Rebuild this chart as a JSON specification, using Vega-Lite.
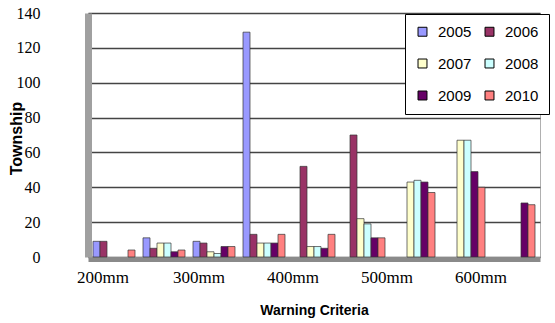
{
  "$schema": "https://vega.github.io/schema/vega-lite/v6.json",
  "width": 452,
  "height": 244,
  "autosize": {"type": "none"},
  "padding": {"left": 88, "top": 13, "right": 15, "bottom": 66},
  "background": "white",
  "config": {
    "view": {"stroke": "#b0b0b0", "strokeWidth": 1}
  },
  "data": {
    "values": [
      {"criteria": "200mm", "year": "2005", "count": 9},
      {"criteria": "200mm", "year": "2006", "count": 9},
      {"criteria": "200mm", "year": "2007", "count": 0},
      {"criteria": "200mm", "year": "2008", "count": 0},
      {"criteria": "200mm", "year": "2009", "count": 0},
      {"criteria": "200mm", "year": "2010", "count": 4},
      {"criteria": "250mm", "year": "2005", "count": 11},
      {"criteria": "250mm", "year": "2006", "count": 5},
      {"criteria": "250mm", "year": "2007", "count": 8},
      {"criteria": "250mm", "year": "2008", "count": 8},
      {"criteria": "250mm", "year": "2009", "count": 3},
      {"criteria": "250mm", "year": "2010", "count": 4},
      {"criteria": "300mm", "year": "2005", "count": 9},
      {"criteria": "300mm", "year": "2006", "count": 8},
      {"criteria": "300mm", "year": "2007", "count": 3},
      {"criteria": "300mm", "year": "2008", "count": 2},
      {"criteria": "300mm", "year": "2009", "count": 6},
      {"criteria": "300mm", "year": "2010", "count": 6},
      {"criteria": "350mm", "year": "2005", "count": 129},
      {"criteria": "350mm", "year": "2006", "count": 13},
      {"criteria": "350mm", "year": "2007", "count": 8},
      {"criteria": "350mm", "year": "2008", "count": 8},
      {"criteria": "350mm", "year": "2009", "count": 8},
      {"criteria": "350mm", "year": "2010", "count": 13},
      {"criteria": "400mm", "year": "2005", "count": 0},
      {"criteria": "400mm", "year": "2006", "count": 52},
      {"criteria": "400mm", "year": "2007", "count": 6},
      {"criteria": "400mm", "year": "2008", "count": 6},
      {"criteria": "400mm", "year": "2009", "count": 5},
      {"criteria": "400mm", "year": "2010", "count": 13},
      {"criteria": "450mm", "year": "2005", "count": 0},
      {"criteria": "450mm", "year": "2006", "count": 70},
      {"criteria": "450mm", "year": "2007", "count": 22},
      {"criteria": "450mm", "year": "2008", "count": 19},
      {"criteria": "450mm", "year": "2009", "count": 11},
      {"criteria": "450mm", "year": "2010", "count": 11},
      {"criteria": "500mm", "year": "2005", "count": 0},
      {"criteria": "500mm", "year": "2006", "count": 0},
      {"criteria": "500mm", "year": "2007", "count": 43},
      {"criteria": "500mm", "year": "2008", "count": 44},
      {"criteria": "500mm", "year": "2009", "count": 43},
      {"criteria": "500mm", "year": "2010", "count": 37},
      {"criteria": "550mm", "year": "2005", "count": 0},
      {"criteria": "550mm", "year": "2006", "count": 0},
      {"criteria": "550mm", "year": "2007", "count": 67},
      {"criteria": "550mm", "year": "2008", "count": 67},
      {"criteria": "550mm", "year": "2009", "count": 49},
      {"criteria": "550mm", "year": "2010", "count": 40},
      {"criteria": "600mm", "year": "2005", "count": 0},
      {"criteria": "600mm", "year": "2006", "count": 0},
      {"criteria": "600mm", "year": "2007", "count": 0},
      {"criteria": "600mm", "year": "2008", "count": 0},
      {"criteria": "600mm", "year": "2009", "count": 31},
      {"criteria": "600mm", "year": "2010", "count": 30}
    ]
  },
  "transform": [{"filter": "datum.count > 0"}],
  "mark": {"type": "bar", "stroke": "#333333", "strokeWidth": 0.7},
  "encoding": {
    "x": {
      "field": "criteria",
      "type": "nominal",
      "sort": ["200mm", "250mm", "300mm", "350mm", "400mm", "450mm", "500mm", "550mm", "600mm"],
      "scale": {"paddingInner": 0.16, "paddingOuter": 0.1},
      "axis": {
        "title": "Warning Criteria",
        "titleFont": "Liberation Sans",
        "titleFontWeight": "bold",
        "titleFontSize": 14,
        "titleColor": "black",
        "titlePadding": 18,
        "labelFont": "Liberation Serif",
        "labelFontSize": 17,
        "labelColor": "black",
        "labelAngle": 0,
        "labelPadding": 10,
        "labelExpr": "indexof(['200mm','300mm','400mm','500mm','600mm'], datum.value) >= 0 ? datum.value : ''",
        "labelOffset": {
          "condition": [
            {"test": "datum.value == '200mm'", "value": -11},
            {"test": "datum.value == '300mm'", "value": -15},
            {"test": "datum.value == '400mm'", "value": -21},
            {"test": "datum.value == '500mm'", "value": -27}
          ],
          "value": -33
        },
        "ticks": false,
        "domainColor": "#8a8a8a",
        "domainWidth": 5,
        "offset": 2
      }
    },
    "xOffset": {
      "field": "year",
      "type": "nominal",
      "sort": ["2005", "2006", "2007", "2008", "2009", "2010"],
      "scale": {"domain": ["2005", "2006", "2007", "2008", "2009", "2010"]}
    },
    "y": {
      "field": "count",
      "type": "quantitative",
      "scale": {"domain": [0, 140]},
      "axis": {
        "title": "Township",
        "titleFont": "Liberation Sans",
        "titleFontWeight": "bold",
        "titleFontSize": 16,
        "titleColor": "black",
        "titleX": -64,
        "titleY": 125,
        "values": [0, 20, 40, 60, 80, 100, 120, 140],
        "labelFont": "Liberation Serif",
        "labelFontSize": 16,
        "labelColor": "black",
        "labelPadding": 48,
        "ticks": false,
        "grid": true,
        "gridColor": "#444444",
        "gridWidth": 1.5,
        "domainColor": "#a0a0a0",
        "domainWidth": 7
      }
    },
    "color": {
      "field": "year",
      "type": "nominal",
      "scale": {
        "domain": ["2005", "2006", "2007", "2008", "2009", "2010"],
        "range": ["#9999ff", "#993366", "#ffffcc", "#ccffff", "#660066", "#ff8080"]
      },
      "legend": {
        "title": null,
        "orient": "none",
        "legendX": 317,
        "legendY": 1,
        "columns": 2,
        "direction": "horizontal",
        "symbolType": "square",
        "symbolSize": 80,
        "symbolStrokeColor": "black",
        "symbolStrokeWidth": 1,
        "labelFont": "Liberation Sans",
        "labelFontSize": 15,
        "labelColor": "black",
        "labelOffset": 8,
        "rowPadding": 16,
        "columnPadding": 10,
        "padding": 10,
        "strokeColor": "black",
        "fillColor": "white"
      }
    }
  }
}
